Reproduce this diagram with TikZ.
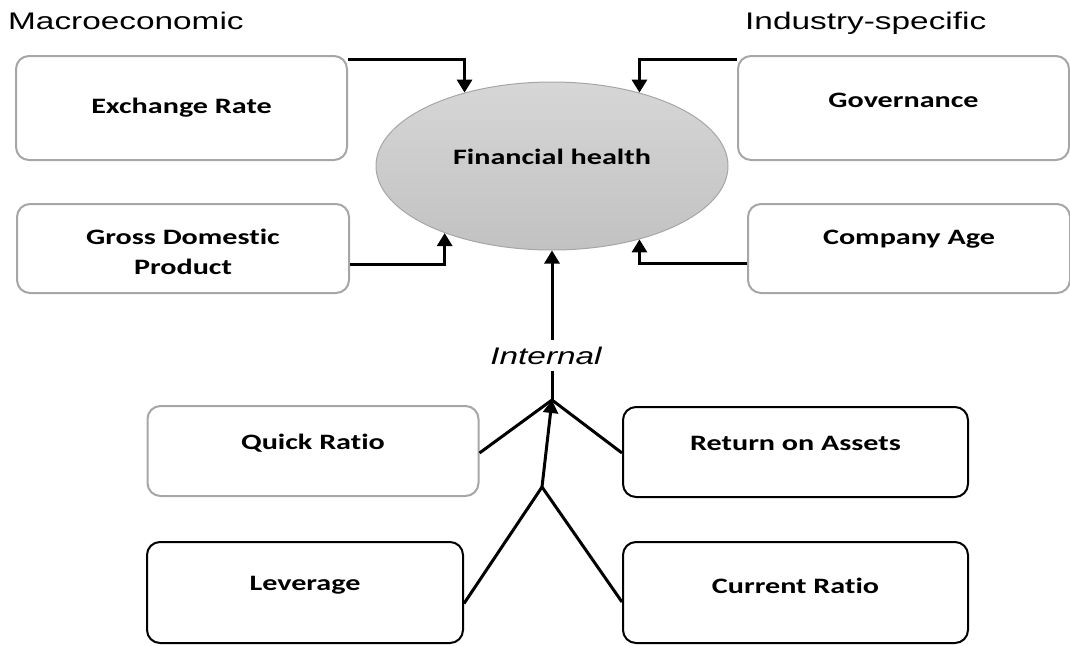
\documentclass[tikz,border=0pt]{standalone}
\usepackage{fontspec}
\setmainfont{Carlito}[Ligatures=NoCommon]
\newfontfamily\headfont{Liberation Sans}
\usetikzlibrary{shapes.geometric,arrows.meta}
% wide setting of the labels
\newcommand{\hs}[1]{\scalebox{1.37}[1]{#1}}
\newcommand{\hw}[1]{\scalebox{1.39}[1]{#1}}
\definecolor{boxgray}{HTML}{A6A6A6}
\begin{document}
\begin{tikzpicture}[x=1pt,y=-1pt,
  box/.style={draw=boxgray, line width=2pt, rounded corners=13pt, inner sep=0pt},
  darkbox/.style={box, draw=black},
  lbl/.style={font=\fontsize{22}{30}\selectfont\bfseries, align=center, inner sep=0pt},
  head/.style={font=\headfont\fontsize{24}{28}\selectfont, inner sep=0pt},
  conn/.style={line width=3pt},
  arr/.style={line width=3pt, -{Triangle[width=15pt,length=13pt]}}]
\useasboundingbox (0,0) rectangle (1070,645);

% group headings
\node[head, anchor=base west] (macro) at (8,29) {\hw{Macroeconomic}};
\node[head, anchor=base west] (industry) at (745,29) {\hw{Industry-specific}};

% central outcome
\node[ellipse, draw=boxgray, line width=1pt, top color=gray!32, bottom color=gray!48,
      minimum width=352pt, minimum height=168pt, inner sep=0pt] (fh) at (552,166) {};
\node[lbl] (fhl) at (552,157) {\hs{Financial health}};

% macroeconomic factors
\node[box, minimum width=331pt, minimum height=104pt,
      label={[lbl]center:\hs{Exchange Rate}}] (er) at (181.5,108) {};
\node[box, minimum width=332pt, minimum height=89pt,
      label={[lbl, yshift=-3pt]center:\hs{Gross Domestic}\\\hs{Product}}] (gdp) at (183,248.5) {};

% industry-specific factors
\node[box, minimum width=331pt, minimum height=104pt,
      label={[lbl, yshift=8pt]center:\hs{Governance}}] (gov) at (903.5,108) {};
\node[box, minimum width=322pt, minimum height=89pt,
      label={[lbl, yshift=9pt]center:\hs{Company Age}}] (age) at (909,248.5) {};

% internal factors
\node[box, minimum width=331pt, minimum height=90pt,
      label={[lbl, yshift=8pt]center:\hs{Quick Ratio}}] (qr) at (313,451) {};
\node[darkbox, minimum width=345pt, minimum height=90pt,
      label={[lbl, yshift=9pt]center:\hs{Return on Assets}}] (roa) at (795.5,452) {};
\node[darkbox, minimum width=316pt, minimum height=101pt,
      label={[lbl, yshift=7pt]center:\hs{Leverage}}] (lev) at (305,592.5) {};
\node[darkbox, minimum width=345pt, minimum height=101pt,
      label={[lbl, yshift=7pt]center:\hs{Current Ratio}}] (cr) at (795.5,592.5) {};

% junctions of the internal branch
\coordinate (j1) at (552,400);
\coordinate (j2) at (542,487);
\node[head, font=\headfont\itshape\fontsize{24}{28}\selectfont, minimum height=31pt] (int) at (546,355.5) {\hw{Internal}};

% connectors into the outcome
\draw[arr] ([yshift=-4pt]er.north east) -| (fh.140.4);
\draw[arr] ([yshift=-4pt]gov.north west) -| (fh.40);
\draw[arr] ([yshift=-15.5pt]gdp.east) -| (fh.212.3);
\draw[arr] ([yshift=-14.5pt]age.west) -| (fh.320);
\draw[conn] (j1) -- (j1 |- int.south);
\draw[arr] (j1 |- int.north) -- (fh.south);

% internal branch
\draw[conn] ([yshift=-2pt]qr.east) -- (j1) -- ([yshift=-1pt]roa.west);
\draw[conn] ([yshift=-11pt]lev.east) -- (j2) -- ([yshift=-9.5pt]cr.west);
\draw[arr] (j2) -- (j1);
\end{tikzpicture}
\end{document}
